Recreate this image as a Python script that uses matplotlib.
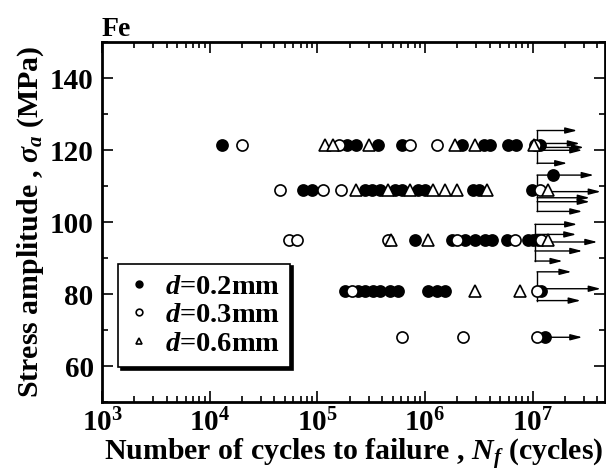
import matplotlib
matplotlib.use("Agg")
import matplotlib.pyplot as plt
from matplotlib.ticker import LogLocator, MultipleLocator, FixedLocator, FixedFormatter

plt.rcParams['font.family'] = ['Liberation Serif', 'DejaVu Serif']
plt.rcParams['font.weight'] = 'bold'
plt.rcParams['mathtext.fontset'] = 'custom'
plt.rcParams['mathtext.rm'] = 'Liberation Serif:bold'
plt.rcParams['mathtext.bf'] = 'Liberation Serif:bold'
plt.rcParams['mathtext.it'] = 'Liberation Serif:italic:bold'

# ---------------------------
# Data
# ---------------------------
# d = 0.2 mm (filled circles)
n_02 = [1.3e4, 1.9e5, 2.3e5, 3.7e5, 6.1e5, 2.2e6, 3.5e6, 4.0e6, 5.9e6, 7.0e6, 1.17e7,
        7.4e4, 8.9e4, 2.8e5, 3.2e5, 3.8e5, 5.3e5, 6.1e5, 8.6e5, 1.0e6, 2.8e6, 3.2e6, 9.8e6, 1.54e7,
        8.0e5, 1.78e6, 2.34e6, 2.9e6, 3.6e6, 4.2e6, 5.75e6, 9.0e6, 1.0e7, 1.12e7,
        1.8e5, 2.4e5, 2.8e5, 3.3e5, 3.8e5, 4.7e5, 5.6e5, 1.06e6, 1.29e6, 1.53e6, 1.2e7,
        1.3e7]
s_02 = [121.5, 121.5, 121.5, 121.5, 121.5, 121.5, 121.5, 121.5, 121.5, 121.5, 121.5,
        109, 109, 109, 109, 109, 109, 109, 109, 109, 109, 109, 109, 113,
        95, 95, 95, 95, 95, 95, 95, 95, 95, 95,
        81, 81, 81, 81, 81, 81, 81, 81, 81, 81, 81,
        68]

# d = 0.3 mm (open circles)
n_03 = [2.0e4, 1.6e5, 7.2e5, 1.3e6, 1.05e7,
        4.5e4, 1.12e5, 1.65e5, 1.17e7,
        5.45e4, 6.5e4, 4.5e5, 2.0e6, 6.8e6, 1.2e7,
        2.1e5, 1.09e7,
        6.1e5, 2.25e6, 1.09e7]
s_03 = [121.5, 121.5, 121.5, 121.5, 121.5,
        109, 109, 109, 109,
        95, 95, 95, 95, 95, 95,
        81, 81,
        68, 68, 68]

# d = 0.6 mm (open triangles)
n_06 = [1.18e5, 1.4e5, 3.0e5, 1.9e6, 2.9e6, 1.03e7,
        2.3e5, 4.5e5, 7.2e5, 1.18e6, 1.53e6, 1.98e6, 3.76e6, 1.38e7,
        4.8e5, 1.06e6, 1.38e7,
        2.9e6, 7.6e6]
s_06 = [121.5, 121.5, 121.5, 121.5, 121.5, 121.5,
        109, 109, 109, 109, 109, 109, 109, 109,
        95, 95, 95,
        81, 81]

# run-outs: bracket position, arrow stress levels and arrow ends
runout_start = [1.1e7, 1.1e7, 1.05e7, 1.1e7]
runout_stress = [[125.5, 121.9, 120.8, 120.0, 116.4],
                 [113.1, 108.5, 106.8, 105.7, 103.0],
                 [99.4, 96.6, 94.5, 92.0, 89.2],
                 [86.2, 81.5, 78.2]]
runout_end = [[2.6e7, 2.75e7, 3.0e7, 2.9e7, 2.1e7],
              [3.7e7, 4.3e7, 3.4e7, 3.4e7, 2.9e7],
              [2.6e7, 2.55e7, 4.0e7, 2.9e7, 1.9e7],
              [2.3e7, 4.3e7, 2.8e7]]
single_runout = (1.3e7, 2.9e7, 68)

x_ticks = [1e3, 1e4, 1e5, 1e6, 1e7]
x_labels = [r'$\mathbf{10^{3}}$', r'$\mathbf{10^{4}}$', r'$\mathbf{10^{5}}$',
            r'$\mathbf{10^{6}}$', r'$\mathbf{10^{7}}$']

# ---------------------------
# Plot
# ---------------------------
fig = plt.figure(figsize=(6.06, 4.75), dpi=100)
ax = fig.add_axes([0.1683, 0.1537, 0.83, 0.757])
ax.set_xscale('log')

ms = 8
ax.plot(n_02, s_02, 'o', ls='none', ms=ms, mfc='black', mec='black', mew=1.2,
        label=r'$d$=0.2mm', zorder=3)
ax.plot(n_03, s_03, 'o', ls='none', ms=ms, mfc='white', mec='black', mew=1.2,
        label=r'$d$=0.3mm', zorder=3)
ax.plot(n_06, s_06, '^', ls='none', ms=ms, mfc='white', mec='black', mew=1.2,
        label=r'$d$=0.6mm', zorder=3)

arrow_kw = dict(arrowstyle='-|>,head_length=0.7,head_width=0.18', color='black', lw=1.0,
                shrinkA=0, shrinkB=0)
for x0, levels, ends in zip(runout_start, runout_stress, runout_end):
    ax.plot([x0, x0], [min(levels), max(levels)], color='black', lw=1.0, zorder=2)
    for s, xe in zip(levels, ends):
        ax.annotate('', xy=(xe, s), xytext=(x0, s), arrowprops=arrow_kw, zorder=2)
ax.annotate('', xy=(single_runout[1], single_runout[2]),
            xytext=(single_runout[0], single_runout[2]), arrowprops=arrow_kw)

ax.set_xlim(1e3, 4.7e7)
ax.set_ylim(50, 150)

ax.xaxis.set_major_locator(FixedLocator(x_ticks))
ax.xaxis.set_major_formatter(FixedFormatter(x_labels))
ax.xaxis.set_minor_locator(LogLocator(base=10, subs=range(2, 10)))
ax.yaxis.set_minor_locator(MultipleLocator(10))
ax.set_yticks([60, 80, 100, 120, 140])

ax.tick_params(which='both', direction='in', top=True, right=True, labelsize=21, width=1.2)
ax.tick_params(which='major', length=8)
ax.tick_params(which='minor', length=4)
ax.tick_params(axis='x', pad=5)
ax.tick_params(axis='y', pad=6)
for lab in ax.get_yticklabels():
    lab.set_fontweight('bold')
for sp in ax.spines.values():
    sp.set_linewidth(2)

ax.set_xlabel(r'Number of cycles to failure , $N_f$ (cycles)', fontsize=21.5,
              fontweight='bold', labelpad=0)
ax.set_ylabel(r'Stress amplitude , $\sigma_a$ (MPa)', fontsize=21.5,
              fontweight='bold', labelpad=3)
ax.set_title('Fe', loc='left', fontsize=20, fontweight='bold', pad=1)

leg = ax.legend(loc='lower left', bbox_to_anchor=(0.032, 0.097), borderaxespad=0,
                fontsize=20.5, markerscale=0.6, handlelength=0.8, handletextpad=0.5,
                labelspacing=0.1, borderpad=0.35, fancybox=False, framealpha=1,
                edgecolor='black', shadow={'color': 'black', 'alpha': 1})
leg.get_frame().set_linewidth(1.2)

fig.savefig('out.png', dpi=100)
